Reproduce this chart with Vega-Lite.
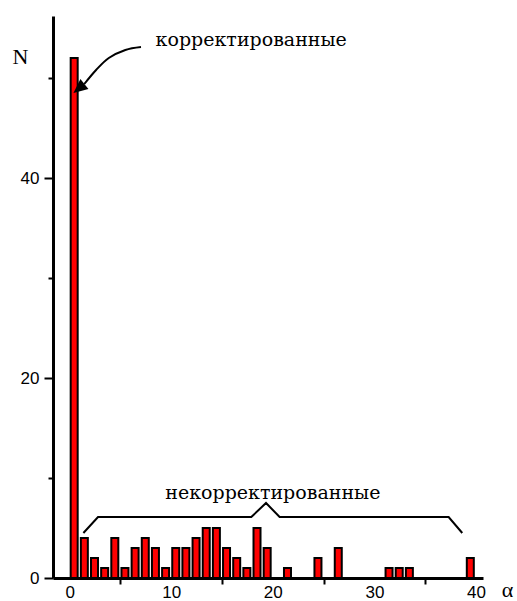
{
  "$schema": "https://vega.github.io/schema/vega-lite/v6.json",
  "width": 430,
  "height": 562,
  "autosize": {"type": "none"},
  "padding": {"left": 53, "top": 16, "right": 34, "bottom": 23},
  "background": "white",
  "config": {
    "view": {"stroke": null},
    "axis": {
      "grid": false,
      "domainColor": "black",
      "domainWidth": 3,
      "tickColor": "black",
      "tickWidth": 2,
      "labelColor": "black",
      "labelFont": "Liberation Sans",
      "labelFontSize": 17,
      "titleColor": "black",
      "titleFont": "Liberation Serif",
      "titleFontWeight": "normal",
      "titleFontSize": 22
    }
  },
  "datasets": {
    "bars": [
      {"alpha": 0, "N": 52}, {"alpha": 1, "N": 4}, {"alpha": 2, "N": 2}, {"alpha": 3, "N": 1},
      {"alpha": 4, "N": 4}, {"alpha": 5, "N": 1}, {"alpha": 6, "N": 3}, {"alpha": 7, "N": 4},
      {"alpha": 8, "N": 3}, {"alpha": 9, "N": 1}, {"alpha": 10, "N": 3}, {"alpha": 11, "N": 3},
      {"alpha": 12, "N": 4}, {"alpha": 13, "N": 5}, {"alpha": 14, "N": 5}, {"alpha": 15, "N": 3},
      {"alpha": 16, "N": 2}, {"alpha": 17, "N": 1}, {"alpha": 18, "N": 5}, {"alpha": 19, "N": 3},
      {"alpha": 21, "N": 1}, {"alpha": 24, "N": 2}, {"alpha": 26, "N": 3}, {"alpha": 31, "N": 1},
      {"alpha": 32, "N": 1}, {"alpha": 33, "N": 1}, {"alpha": 39, "N": 2}
    ],
    "arrow": [
      {"alpha": 7.02, "N": 53.1}, {"alpha": 5.48, "N": 52.8}, {"alpha": 3.85, "N": 52.0},
      {"alpha": 2.6, "N": 50.8}, {"alpha": 1.44, "N": 49.4}
    ],
    "arrowhead": [{"alpha": 0.91, "N": 48.95}],
    "bracket": [
      {"alpha": 1.35, "N": 4.5}, {"alpha": 2.79, "N": 6.1}, {"alpha": 17.88, "N": 6.1},
      {"alpha": 19.33, "N": 7.5}, {"alpha": 20.67, "N": 6.1}, {"alpha": 37.31, "N": 6.1},
      {"alpha": 38.65, "N": 4.5}
    ],
    "label1": [{"alpha": 8.46, "N": 53.2, "text": "корректированные"}],
    "label2": [{"alpha": 20.0, "N": 7.9, "text": "некорректированные"}]
  },
  "encoding": {
    "x": {
      "field": "alpha",
      "type": "quantitative",
      "scale": {"domain": [-1.15, 40.2], "nice": false, "zero": false},
      "axis": {
        "values": [0, 5, 10, 15, 20, 25, 30, 35, 40],
        "labelExpr": "datum.value % 10 === 0 ? datum.label : ''",
        "tickOpacity": {"condition": {"test": "datum.value % 10 === 0", "value": 0}, "value": 1},
        "tickSize": 6,
        "labelPadding": 0,
        "labelFlush": false,
        "labelOverlap": false,
        "title": "α",
        "titleX": 454,
        "titleY": 18,
        "titleAlign": "center",
        "titleBaseline": "alphabetic"
      }
    },
    "y": {
      "field": "N",
      "type": "quantitative",
      "scale": {"domain": [0, 56.2], "nice": false},
      "axis": {
        "values": [0, 10, 20, 30, 40, 50],
        "labelExpr": "datum.value % 20 === 0 ? datum.label : ''",
        "tickSize": {"condition": {"test": "datum.value % 20 === 0", "value": 9}, "value": 5},
        "labelPadding": 5,
        "labelOverlap": false,
        "title": "N",
        "titleAngle": 0,
        "titleX": -33,
        "titleY": 47,
        "titleAlign": "center",
        "titleBaseline": "alphabetic"
      }
    }
  },
  "layer": [
    {
      "data": {"name": "bars"},
      "mark": {"type": "bar", "fill": "#ff0000", "stroke": "black", "strokeWidth": 2, "width": 7, "xOffset": 4.5}
    },
    {
      "data": {"name": "arrow"},
      "mark": {"type": "line", "interpolate": "cardinal", "color": "black", "strokeWidth": 2}
    },
    {
      "data": {"name": "arrowhead"},
      "mark": {"type": "point", "shape": "M0,-1L0.9,1L-0.9,1Z", "filled": true, "color": "black", "opacity": 1, "size": 200, "angle": 231}
    },
    {
      "data": {"name": "bracket"},
      "mark": {"type": "line", "color": "black", "strokeWidth": 2}
    },
    {
      "data": {"name": "label1"},
      "mark": {"type": "text", "font": "DejaVu Serif", "fontSize": 19, "align": "left", "baseline": "alphabetic", "color": "black"},
      "encoding": {"text": {"field": "text"}}
    },
    {
      "data": {"name": "label2"},
      "mark": {"type": "text", "font": "DejaVu Serif", "fontSize": 19, "align": "center", "baseline": "alphabetic", "color": "black"},
      "encoding": {"text": {"field": "text"}}
    }
  ]
}
